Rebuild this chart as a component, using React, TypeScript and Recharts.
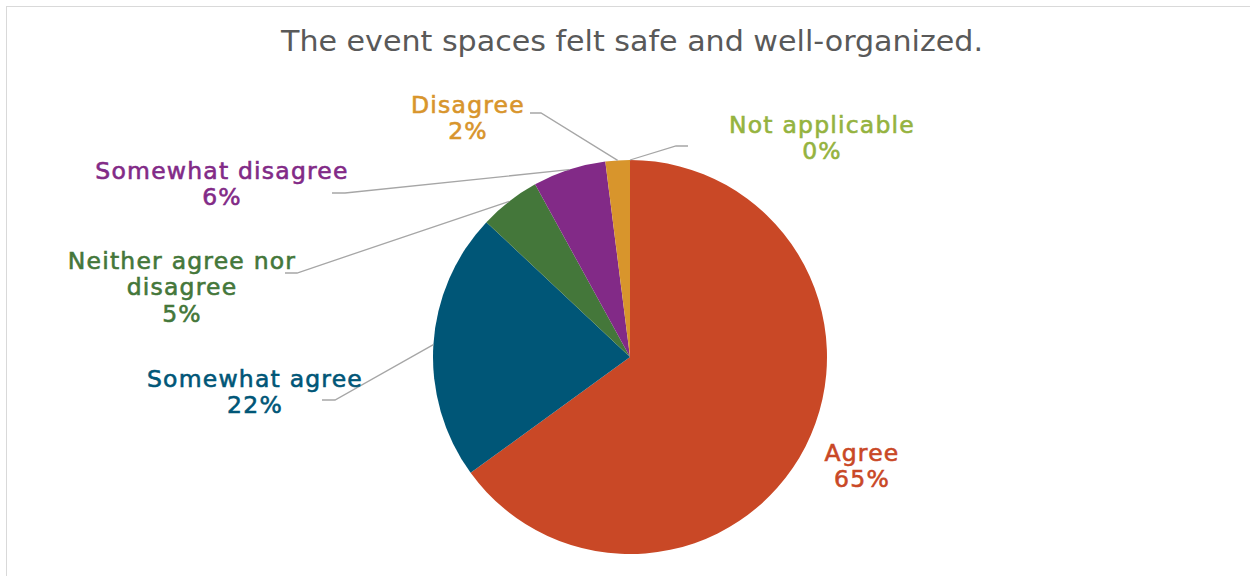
import { PieChart, Pie, Cell } from 'recharts';

const categories = ['Agree', 'Somewhat agree', 'Neither agree nor disagree', 'Somewhat disagree', 'Disagree', 'Not applicable'];
const shares = [65, 22, 5, 6, 2, 0];
const colors = ['#C94826', '#005677', '#44773A', '#822A87', '#D8952C', '#95B33F'];

const title = 'The event spaces felt safe and well-organized.';

// label text lines (Excel wrapped them this way)
const labelLines: Record<string, string[]> = {
  'Agree': ['Agree'],
  'Somewhat agree': ['Somewhat agree'],
  'Neither agree nor disagree': ['Neither agree nor', 'disagree'],
  'Somewhat disagree': ['Somewhat disagree'],
  'Disagree': ['Disagree'],
  'Not applicable': ['Not applicable'],
};

// label placement relative to pie centre: text centre, elbow, stub end
const labelLayout: Record<string, { tx: number; ty: number; elbow?: [number, number]; stub?: [number, number] }> = {
  'Agree': { tx: 232, ty: 109 },
  'Somewhat agree': { tx: -375, ty: 35, elbow: [-295, 43], stub: [-308, 43] },
  'Neither agree nor disagree': { tx: -448, ty: -70, elbow: [-333, -84], stub: [-345, -84] },
  'Somewhat disagree': { tx: -408, ty: -173, elbow: [-285, -164], stub: [-298, -164] },
  'Disagree': { tx: -162, ty: -239, elbow: [-89, -244], stub: [-100, -244] },
  'Not applicable': { tx: 192, ty: -219, elbow: [46, -211], stub: [58, -211] },
};

const data = categories.map((name, i) => ({ name, value: shares[i] }));

const RAD = Math.PI / 180;
const LINE_H = 26.5;

const renderLabel = (props: any) => {
  const { cx, cy, midAngle, outerRadius, index } = props;
  const name = categories[index];
  const lay = labelLayout[name];
  const lines = [...labelLines[name], `${Math.round(shares[index])}%`];
  const color = colors[index];
  const ax = cx + outerRadius * Math.cos(-midAngle * RAD);
  const ay = cy + outerRadius * Math.sin(-midAngle * RAD);
  const top = cy + lay.ty - ((lines.length - 1) * LINE_H) / 2;
  return (
    <g key={`lbl-${index}`}>
      {lay.elbow && lay.stub && (
        <polyline
          points={`${ax},${ay} ${cx + lay.elbow[0]},${cy + lay.elbow[1]} ${cx + lay.stub[0]},${cy + lay.stub[1]}`}
          fill="none"
          stroke="#A6A6A6"
          strokeWidth={1.3}
        />
      )}
      {lines.map((t, i) => (
        <text
          key={i}
          x={cx + lay.tx}
          y={top + i * LINE_H}
          textAnchor="middle"
          dominantBaseline="central"
          fill={color}
          stroke={color}
          strokeWidth={0.6}
          fontFamily="'DejaVu Sans', sans-serif"
          fontSize={23.5}
          letterSpacing={1.2}
        >
          {t}
        </text>
      ))}
    </g>
  );
};

export default function App() {
  return (
    <div
      style={{
        position: 'absolute',
        left: 6,
        top: 6,
        width: 1260,
        height: 590,
        border: '1.5px solid #D9D9D9',
        background: '#fff',
      }}
    >
      <style>{`.recharts-pie-sectors { filter: drop-shadow(0 0 4px rgba(0,0,0,0.28)); }`}</style>
      <svg width={1250} height={60} style={{ position: 'absolute', left: 0, top: 0 }}>
        <text
          x={625}
          y={34}
          textAnchor="middle"
          dominantBaseline="central"
          fill="#595959"
          fontFamily="'DejaVu Sans', sans-serif"
          fontStretch="condensed"
          fontSize={29}
          textLength={702}
          lengthAdjust="spacingAndGlyphs"
        >
          {title}
        </text>
      </svg>
      <PieChart width={1250} height={580}>
        <Pie
          data={data}
          dataKey="value"
          nameKey="name"
          cx={618}
          cy={345}
          outerRadius={197}
          startAngle={90}
          endAngle={-270}
          stroke="none"
          label={renderLabel}
          labelLine={false}
          isAnimationActive={false}
        >
          {data.map((d, i) => (
            <Cell key={d.name} fill={colors[i]} />
          ))}
        </Pie>
      </PieChart>
    </div>
  );
}
